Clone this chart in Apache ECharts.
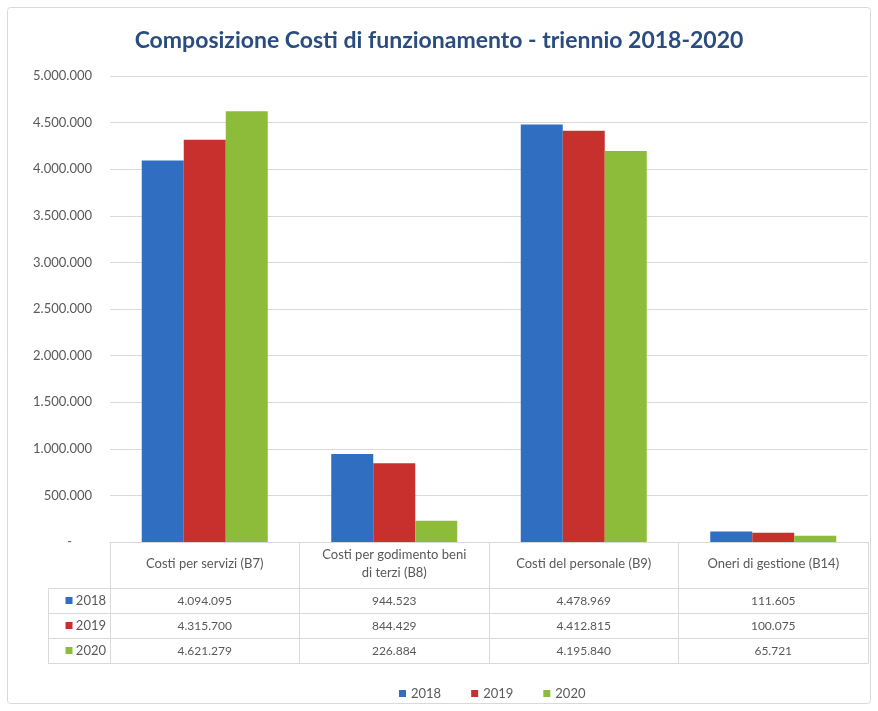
<!DOCTYPE html>
<html><head><meta charset="utf-8">
<script src="https://cdn.jsdelivr.net/npm/echarts@6/dist/echarts.min.js"></script>
<style>html,body{margin:0;padding:0;background:#fff}#c{width:878px;height:711px}</style>
</head><body><div id="c"></div>
<script>
const categories = ['Costi per servizi (B7)', 'Costi per godimento beni\ndi terzi (B8)', 'Costi del personale (B9)', 'Oneri di gestione (B14)'];
const years = ['2018', '2019', '2020'];
const v2018 = [4094095, 944523, 4478969, 111605];
const v2019 = [4315700, 844429, 4412815, 100075];
const v2020 = [4621279, 226884, 4195840, 65721];
const colors = ['#2F6EC0', '#C8302E', '#8DBB3A'];
const titleText = 'Composizione Costi di funzionamento - triennio 2018-2020';

const seriesValues = [v2018, v2019, v2020];
function fmt(n){ return String(Math.round(n)).replace(/\B(?=(\d{3})+(?!\d))/g, '.'); }

const chart = echarts.init(document.getElementById('c'), null, {renderer:'canvas'});
const FONT = 'Lato';
const gridCol = '#D9D9D9';
const txtCol = '#595959';

const xAxes = [{
  type:'category', data:categories, gridIndex:0, position:'bottom',
  axisLine:{show:true, lineStyle:{color:gridCol}},
  axisTick:{show:true, length:121, lineStyle:{color:gridCol}},
  axisLabel:{interval:0, verticalAlign:'middle', margin:22, color:txtCol, fontFamily:FONT, fontSize:13, lineHeight:18}
}];
years.forEach((y, i) => {
  xAxes.push({
    type:'category', data:categories, gridIndex:0, position:'bottom', offset:46 + 25*i,
    axisLine:{show:true, lineStyle:{color:gridCol}},
    axisTick:{show:false},
    axisLabel:{interval:0, verticalAlign:'middle', margin:13, color:txtCol, fontFamily:FONT, fontSize:12,
      formatter:(val, idx) => fmt(seriesValues[i][idx])},
    name:'{sq|}{t| ' + y + '}', nameLocation:'start', nameGap:4,
    nameTextStyle:{verticalAlign:'top', padding:[6,0,0,0], rich:{
      sq:{width:7, height:7, backgroundColor:colors[i]},
      t:{color:txtCol, fontFamily:FONT, fontSize:13}
    }}
  });
});
xAxes.push({
  type:'category', data:categories, gridIndex:0, position:'bottom', offset:121,
  axisLine:{show:true, lineStyle:{color:gridCol}}, axisTick:{show:false}, axisLabel:{show:false}
});

const series = years.map((y, i) => ({
  name:y, type:'bar', xAxisIndex:0, data:seriesValues[i],
  barWidth:42, barGap:'0%', itemStyle:{color:colors[i]}
}));

chart.setOption({
  animation:false,
  backgroundColor:'#fff',
  title:{text:titleText, left:'center', top:24, textStyle:{fontFamily:FONT, fontSize:23, fontWeight:'bold', color:'#2B4C7E'}},
  grid:{left:110, right:10, top:76, bottom:169, containLabel:false},
  xAxis:xAxes,
  yAxis:{type:'value', min:0, max:5000000, interval:500000,
    axisLine:{show:false}, axisTick:{show:false},
    splitLine:{lineStyle:{color:gridCol}},
    axisLabel:{margin:18, color:txtCol, fontFamily:FONT, fontSize:13,
      formatter:v => v === 0 ? '-      ' : fmt(v)}},
  legend:{data:years, left:394, top:682, itemWidth:7, itemHeight:7, itemGap:30, icon:'rect',
    textStyle:{color:txtCol, fontFamily:FONT, fontSize:13}},
  series:series,
  graphic:[
    {type:'rect', shape:{x:7.5, y:7.5, width:863, height:696, r:3}, style:{fill:'none', stroke:gridCol, lineWidth:1}, silent:true},
    {type:'line', shape:{x1:48, y1:588.5, x2:110, y2:588.5}, style:{stroke:gridCol}},
    {type:'line', shape:{x1:48, y1:613.5, x2:110, y2:613.5}, style:{stroke:gridCol}},
    {type:'line', shape:{x1:48, y1:638.5, x2:110, y2:638.5}, style:{stroke:gridCol}},
    {type:'line', shape:{x1:48, y1:663.5, x2:110, y2:663.5}, style:{stroke:gridCol}},
    {type:'line', shape:{x1:48.5, y1:588, x2:48.5, y2:663}, style:{stroke:gridCol}}
  ]
});
</script></body></html>
